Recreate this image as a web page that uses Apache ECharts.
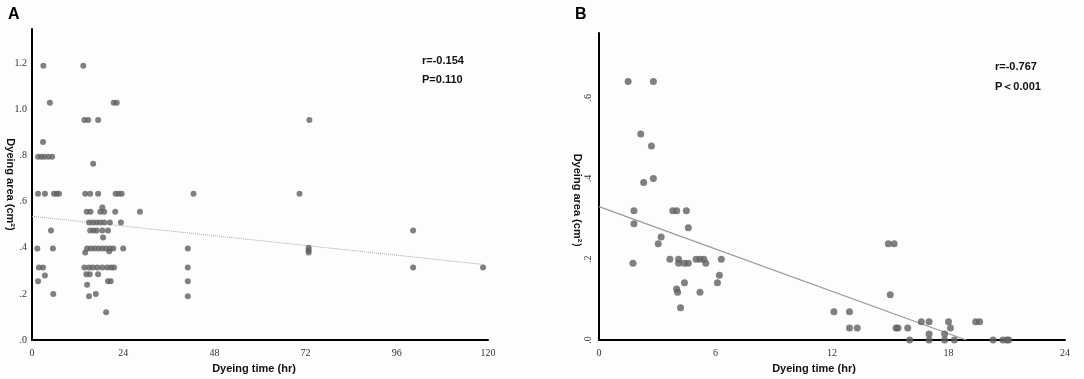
<!DOCTYPE html>
<html>
<head>
<meta charset="utf-8">
<script src="https://cdn.jsdelivr.net/npm/echarts@6/dist/echarts.min.js"></script>
<style>
html,body{margin:0;padding:0;background:#fdfdfb;}
#c{width:1084px;height:379px;}
</style>
</head>
<body>
<div id="c"></div>
<script>
// Panel A: dyeing time (hr) vs dyeing area (cm2)
const pointsA = [
  [3,1.19],[13.5,1.19],
  [4.7,1.03],[21.5,1.03],[22.3,1.03],
  [13.8,0.955],[14.8,0.955],[17.4,0.955],
  [2.9,0.86],
  [1.6,0.795],[2.5,0.795],[3.3,0.795],[4.3,0.795],[5.3,0.795],
  [16.1,0.765],
  [1.6,0.635],[3.4,0.635],[5.8,0.635],[6.5,0.635],[7.1,0.635],[14,0.635],[15.3,0.635],[17.4,0.635],[22,0.635],[22.8,0.635],[23.6,0.635],[42.5,0.635],
  [14.4,0.557],[15.4,0.557],[18,0.557],[19,0.557],[18.5,0.575],[21.9,0.557],[28.4,0.557],
  [15,0.51],[16,0.51],[17,0.51],[18,0.51],[19,0.51],[20.5,0.51],[23.4,0.51],
  [5,0.475],[15.3,0.475],[16.2,0.475],[17,0.475],[18.5,0.475],[20,0.475],
  [18.7,0.445],
  [1.4,0.397],[5.5,0.397],[14.5,0.397],[15.5,0.397],[16.5,0.397],[17.5,0.397],[18.5,0.397],[19.5,0.397],[20.5,0.397],[21.4,0.397],[24,0.397],[41,0.397],
  [14,0.38],[20.3,0.385],
  [1.8,0.315],[2.9,0.315],[13.8,0.315],[15,0.315],[16,0.315],[17.2,0.315],[18.5,0.315],[19.8,0.315],[20.8,0.315],[21.6,0.315],[41,0.315],
  [3.4,0.28],
  [14.3,0.285],[15.2,0.285],[17.4,0.285],
  [1.6,0.255],[20,0.255],[20.7,0.255],[41,0.255],
  [14.5,0.24],
  [5.6,0.2],[15,0.19],[16.8,0.2],[41,0.19],
  [19.5,0.12],
  [73,0.955],[70.4,0.635],[100.3,0.475],[72.8,0.4],[72.8,0.39],[72.8,0.38],[100.3,0.315],[118.7,0.315]
];
const fitA = [[0,0.537],[118.7,0.328]];
const xTicksA = {min:0, max:120, interval:24};
const yTicksA = {min:0, max:1.35, interval:0.2};
const statsA = ['r=-0.154','P=0.110'];

// Panel B
const pointsB = [
  [1.5,0.64],[2.8,0.64],[2.15,0.51],[2.7,0.48],[2.3,0.39],[2.8,0.40],
  [1.8,0.32],[3.8,0.32],[4.0,0.32],[4.5,0.32],
  [1.8,0.288],[4.6,0.278],[3.2,0.255],[3.05,0.238],
  [1.75,0.19],
  [3.65,0.2],[4.1,0.2],[4.1,0.19],[4.4,0.19],[4.6,0.19],[5.0,0.2],[5.2,0.2],[5.4,0.2],[5.5,0.19],[6.3,0.2],
  [6.2,0.16],[6.1,0.142],[4.4,0.142],[4.0,0.126],[4.05,0.118],[5.2,0.118],[4.2,0.08],
  [14.9,0.238],[15.2,0.238],[15.0,0.112],[12.1,0.07],[12.9,0.07],[12.9,0.03],[13.3,0.03],
  [15.3,0.03],[15.4,0.03],[15.9,0.03],[16.6,0.045],[17.0,0.045],[18.0,0.045],[18.1,0.03],
  [17.0,0.015],[17.8,0.015],[19.4,0.045],[19.6,0.045],
  [16.0,0],[17.0,0],[17.8,0],[18.3,0],[20.3,0],[20.8,0],[21.0,0],[21.1,0]
];
const fitB = [[0,0.33],[18.9,0]];
const xTicksB = {min:0, max:24, interval:6};
const yTicksB = {min:0, max:0.76, interval:0.2};
const statsB = ['r=-0.767','P\uFF1C0.001'];

const xName = 'Dyeing time (hr)';
const yNameA = 'Dyeing area (cm\u00B2)';
const yNameB = 'Dyeing area (cm\u00B2\uFF09';

const fmtY = v => { const s = (+v).toFixed(1); return s.startsWith('0') ? s.slice(1) : s; };
const labelFont = {fontFamily:'Liberation Serif, serif', fontSize:10, color:'#333'};
const nameFont = {fontFamily:'Liberation Sans, Arial, sans-serif', fontSize:11, fontWeight:'bold', color:'#111'};
const statFont = 'bold 11px "Liberation Sans", Arial, sans-serif';
const axisLine = {show:true, lineStyle:{color:'#000', width:2}};

const chart = echarts.init(document.getElementById('c'), null, {renderer:'canvas'});
chart.setOption({
  backgroundColor:'#fdfdfb',
  animation:false,
  grid:[
    {left:32, top:29, width:456, height:311},
    {left:599, top:33, width:466, height:307}
  ],
  xAxis:[
    Object.assign({type:'value', gridIndex:0, name:xName, nameLocation:'middle', nameGap:23,
      nameTextStyle:Object.assign({padding:[0,12,0,0]}, nameFont),
      axisLine:axisLine, axisTick:{show:false}, splitLine:{show:false},
      axisLabel:Object.assign({margin:8}, labelFont)}, xTicksA),
    Object.assign({type:'value', gridIndex:1, name:xName, nameLocation:'middle', nameGap:23,
      nameTextStyle:Object.assign({padding:[0,36,0,0]}, nameFont),
      axisLine:axisLine, axisTick:{show:false}, splitLine:{show:false},
      axisLabel:Object.assign({margin:8}, labelFont)}, xTicksB)
  ],
  yAxis:[
    Object.assign({type:'value', gridIndex:0, name:yNameA, nameLocation:'middle', nameGap:16, nameRotate:-90,
      nameMoveOverlap:false, nameTextStyle:nameFont,
      axisLine:axisLine, axisTick:{show:false}, splitLine:{show:false},
      axisLabel:Object.assign({margin:5, formatter:fmtY, showMaxLabel:false}, labelFont)}, yTicksA),
    Object.assign({type:'value', gridIndex:1, name:yNameB, nameLocation:'middle', nameGap:14, nameRotate:-90,
      nameTextStyle:Object.assign({padding:[0,0,0,34]}, nameFont),
      axisLine:axisLine, axisTick:{show:false}, splitLine:{show:false},
      axisLabel:Object.assign({margin:6, rotate:90, formatter:fmtY, showMaxLabel:false}, labelFont)}, yTicksB)
  ],
  series:[
    {type:'line', xAxisIndex:0, yAxisIndex:0, data:fitA, symbol:'none', z:1,
      lineStyle:{color:'#a8a8a8', width:1, type:'dotted'}},
    {type:'scatter', xAxisIndex:0, yAxisIndex:0, data:pointsA, symbolSize:6, z:2,
      itemStyle:{color:'#606060'}},
    {type:'line', xAxisIndex:1, yAxisIndex:1, data:fitB, symbol:'none', z:1,
      lineStyle:{color:'#9a9a9a', width:1.3}},
    {type:'scatter', xAxisIndex:1, yAxisIndex:1, data:pointsB, symbolSize:7, z:2,
      itemStyle:{color:'#606060'}}
  ],
  graphic:[
    {type:'text', left:8, top:7, style:{text:'A', font:'bold 16px "Liberation Sans", Arial, sans-serif', fill:'#000'}},
    {type:'text', left:575, top:7, style:{text:'B', font:'bold 16px "Liberation Sans", Arial, sans-serif', fill:'#000'}},
    {type:'text', left:422, top:55, style:{text:statsA[0], font:statFont, fill:'#111'}},
    {type:'text', left:422, top:74, style:{text:statsA[1], font:statFont, fill:'#111'}},
    {type:'text', left:995, top:61, style:{text:statsB[0], font:statFont, fill:'#111'}},
    {type:'text', left:995, top:81, style:{text:statsB[1], font:statFont, fill:'#111'}}
  ]
});
</script>
</body>
</html>
